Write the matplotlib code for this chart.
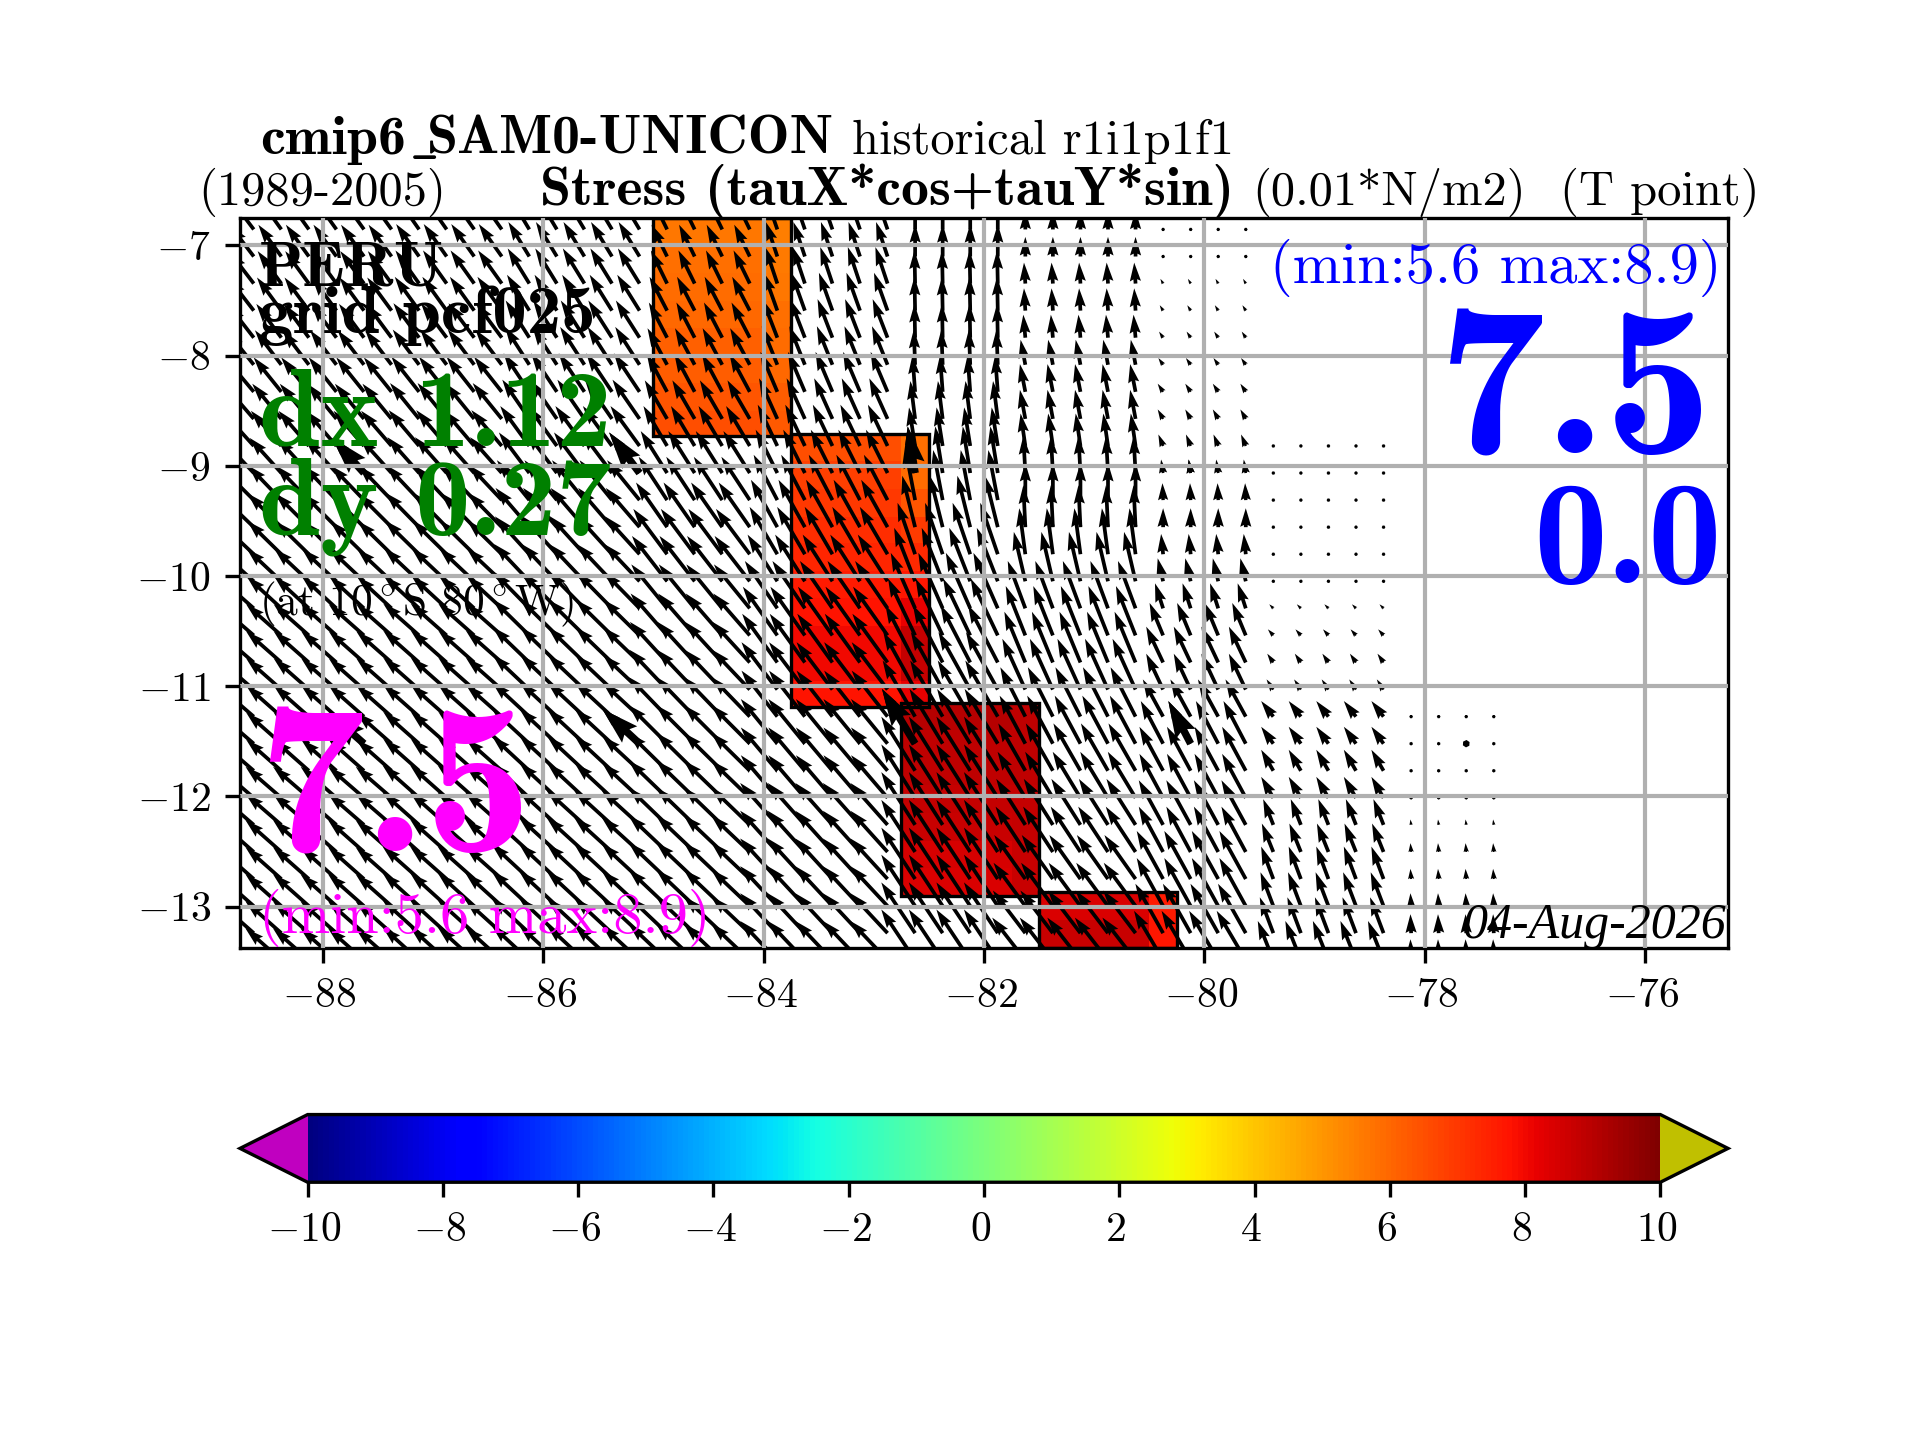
import numpy as np
import matplotlib
matplotlib.use('Agg')
import matplotlib.pyplot as plt
from matplotlib.cm import ScalarMappable
from matplotlib.colors import Normalize
from matplotlib.patches import Rectangle
from matplotlib.transforms import ScaledTranslation

plt.rcParams['mathtext.fontset'] = 'cm'
plt.rcParams['font.family'] = 'cmr10'
plt.rcParams['axes.unicode_minus'] = False
plt.rcParams['axes.formatter.use_mathtext'] = True

xticks = [-88, -86, -84, -82, -80, -78, -76]
yticks = [-7, -8, -9, -10, -11, -12, -13]
cticks = [-10, -8, -6, -4, -2, 0, 2, 4, 6, 8, 10]

# arrows repeat over model cells, so one column of values per cell (28 rows, north to south)
block_cols = [1, 5, 4, 5, 4, 5, 4, 5, 4, 5, 4]
lon_first, lon_step = -88.625, 0.25
lat_first, lat_step = -6.855, -0.2456

n = np.nan
u_b0 = [-3.4,-3.5,-3.6,-3.7,-3.8,-4.0,-4.2,-4.4,-4.6,-4.8,-5.0,-5.1,-5.1,-5.2,-5.2,-5.2,-5.2,-5.2,-5.2,-5.2,-5.2,-5.2,-5.2,-5.2,-5.2,-5.2,-5.2,-5.2]
v_b0 = [4.5,4.6,4.7,4.8,4.9,5.0,5.0,5.1,5.1,5.1,5.0,4.9,4.8,4.7,4.6,4.5,4.5,4.5,4.5,4.5,4.5,4.5,4.5,4.6,4.6,4.6,4.6,4.6]
u_b1 = [-3.3,-3.4,-3.5,-3.6,-3.7,-3.9,-4.1,-4.3,-4.5,-4.7,-4.9,-5.0,-5.0,-5.1,-5.1,-5.2,-5.2,-5.2,-5.2,-5.2,-5.2,-5.3,-5.3,-5.3,-5.3,-5.3,-5.3,-5.3]
v_b1 = [4.6,4.7,4.8,4.9,5.0,5.1,5.1,5.2,5.2,5.2,5.1,5.0,4.9,4.8,4.7,4.6,4.6,4.6,4.6,4.6,4.6,4.6,4.6,4.7,4.7,4.7,4.7,4.7]
u_b2 = [-3.3,-3.4,-3.5,-3.6,-3.8,-3.9,-4.1,-4.3,-4.5,-4.7,-4.9,-5.0,-5.1,-5.2,-5.2,-5.3,-5.3,-5.3,-5.3,-5.3,-5.3,-5.4,-5.4,-5.4,-5.4,-5.4,-5.4,-5.4]
v_b2 = [4.7,4.8,4.9,5.0,5.1,5.2,5.2,5.3,5.3,5.3,5.2,5.1,5.0,4.9,4.8,4.7,4.7,4.7,4.7,4.7,4.7,4.8,4.8,4.8,4.8,4.9,4.9,4.9]
u_b3 = [-3.0,-3.1,-3.2,-3.3,-3.5,-3.6,-3.8,-4.0,-4.3,-4.5,-4.8,-5.0,-5.1,-5.2,-5.3,-5.4,-5.4,-5.4,-5.5,-5.5,-5.5,-5.5,-5.6,-5.6,-5.6,-5.6,-5.6,-5.6]
v_b3 = [5.0,5.1,5.2,5.3,5.5,5.6,5.7,5.8,5.9,6.0,5.9,5.8,5.6,5.5,5.4,5.3,5.2,5.1,5.1,5.1,5.1,5.1,5.1,5.1,5.2,5.2,5.2,5.2]
u_b4 = [-2.2,-2.3,-2.4,-2.6,-2.7,-2.9,-3.0,-3.3,-3.5,-3.9,-4.2,-4.6,-5.0,-5.2,-5.3,-5.4,-5.5,-5.6,-5.6,-5.7,-5.7,-5.7,-5.7,-5.7,-5.7,-5.7,-5.7,-5.7]
v_b4 = [4.5,4.7,4.9,5.0,5.2,5.4,5.6,5.7,5.9,6.2,6.4,6.6,6.7,6.7,6.5,6.2,6.0,5.9,5.8,5.7,5.6,5.5,5.5,5.4,5.4,5.4,5.4,5.4]
u_b5 = [-1.7,-1.7,-1.8,-2.0,-2.2,-2.3,-2.5,-2.7,-2.9,-3.2,-3.5,-3.9,-4.1,-4.4,-4.8,-5.1,-5.2,-5.3,-5.3,-5.4,-5.4,-5.4,-5.5,-5.5,-5.5,-5.5,-5.5,-5.5]
v_b5 = [4.9,5.1,5.4,5.6,5.7,5.7,5.9,6.0,6.1,6.4,6.7,7.0,7.0,6.9,7.0,7.2,7.2,7.0,6.8,6.6,6.4,6.3,6.2,6.1,6.0,5.9,5.9,5.8]
u_b6 = [0.0,0.0,-0.1,-0.1,-0.1,-0.2,-0.4,-0.7,-0.9,-1.1,-1.4,-1.9,-2.6,-3.1,-3.6,-4.0,-4.4,-4.7,-4.8,-4.9,-5.0,-5.0,-5.0,-5.0,-5.0,-5.0,-5.0,-5.0]
v_b6 = [4.8,4.8,4.9,5.0,5.0,5.2,5.4,5.6,5.7,6.9,7.4,7.6,7.6,7.9,8.2,8.4,8.5,8.5,8.3,8.1,8.0,7.9,7.8,7.7,7.6,7.6,7.5,7.5]
u_b7 = [0.0,0.0,-0.2,-0.2,-0.3,-0.7,-0.8,-0.8,-0.7,-0.3,0.0,-0.3,-0.9,-1.7,-2.6,-2.9,-3.1,-3.4,-3.7,-3.8,-4.0,-4.1,-4.3,-4.4,-4.6,-4.7,-4.8,-4.9]
v_b7 = [2.8,2.9,3.1,3.3,3.4,3.7,4.1,4.3,4.8,5.5,5.5,6.2,6.8,7.3,7.0,7.3,7.5,7.5,7.3,7.1,7.0,6.8,6.8,6.7,6.5,6.4,6.3,6.3]
u_b8 = [0.0,-0.3,-0.4,-0.5,-0.6,-0.7,-0.8,-0.8,-0.7,-0.3,-0.1,0.0,-0.3,-0.8,-1.2,-2.0,-2.5,-2.5,-3.0,-3.3,-3.5,-3.5,-3.6,-3.6,-3.9,-3.9,-4.1,-4.3]
v_b8 = [0.0,0.4,0.7,0.8,0.9,1.0,1.2,1.4,1.7,2.0,2.5,2.8,3.0,3.4,3.7,4.8,5.3,5.3,5.5,6.3,6.5,6.5,6.6,6.7,7.1,7.1,7.3,7.3]
u_b9 = [n,n,n,n,n,n,n,n,0.0,0.0,0.0,0.0,-0.2,-0.3,-0.6,-0.8,-0.9,-1.0,-1.8,-1.8,-1.8,-1.8,-1.5,-1.7,-1.8,-1.9,-2.0,-2.3]
v_b9 = [n,n,n,n,n,n,n,n,0.0,0.0,0.0,0.0,0.3,0.3,0.6,0.9,1.3,1.5,2.3,2.5,3.1,3.1,3.8,4.2,4.8,5.0,5.3,5.8]
u_b10 = [n,n,n,n,n,n,n,n,n,n,n,n,n,n,n,n,n,n,0.0,-0.3,-0.3,0.0,-0.1,-0.1,-0.1,-0.1,-0.1,-0.1]
v_b10 = [n,n,n,n,n,n,n,n,n,n,n,n,n,n,n,n,n,n,0.0,0.2,0.2,0.3,0.8,1.3,1.5,1.9,2.8,3.1]

# every tenth arrow is drawn heavier
heavy_rows = [9, 19]
heavy_col_start, heavy_col_step = 4, 10

# shaded cells, one block per model column: lon edges, lat edges, values by row for each sub-column
b1_lon = [-85.0, -84.0, -83.75]
b1_lat = [-6.75, -7.0, -7.25, -7.5, -7.75, -8.0, -8.25, -8.5, -8.73]
b1_main = [5.7, 5.8, 5.9, 6.0, 6.1, 6.2, 6.4, 6.5]
b1_edge = [5.5, 5.6, 5.7, 5.8, 5.9, 6.0, 6.2, 6.3]

b2_lon = [-83.75, -82.75, -82.5]
b2_lat = [-8.71, -8.96, -9.21, -9.46, -9.7, -9.95, -10.2, -10.45, -10.7, -10.95, -11.19]
b2_main = [6.5, 6.8, 7.0, 7.2, 7.4, 7.6, 7.8, 8.0, 8.0, 7.8]
b2_edge = [5.8, 5.9, 6.4, 6.9, 7.3, 7.7, 8.2, 8.8, 8.8, 8.2]

b3_lon = [-82.75, -81.75, -81.5]
b3_lat = [-11.15, -11.4, -11.65, -11.9, -12.15, -12.4, -12.65, -12.9]
b3_main = [9.0, 8.9, 8.9, 8.8, 8.7, 8.5, 8.4]
b3_edge = [8.9, 8.9, 8.9, 8.8, 8.8, 8.7, 8.7]

b4_lon = [-81.5, -80.5, -80.25]
b4_lat = [-12.87, -13.12, -13.375]
b4_main = [8.4, 8.7]
b4_edge = [7.6, 7.7]

cmap = plt.get_cmap('jet').copy()
cmap.set_under('#c000c0')
cmap.set_over('#c0c000')
norm = Normalize(-10, 10)

fig = plt.figure(figsize=(6.4, 4.8), dpi=300)
ax = fig.add_axes([0.125, 0.3417, 0.775, 0.507])
ax.set_xlim(-88.75, -75.25)
ax.set_ylim(-13.375, -6.75)

blocks = [(b1_lon, b1_lat, b1_main, b1_edge), (b2_lon, b2_lat, b2_main, b2_edge),
          (b3_lon, b3_lat, b3_main, b3_edge), (b4_lon, b4_lat, b4_main, b4_edge)]
for lons, lats, main, edge in blocks:
    vals = np.column_stack([main, edge])
    ax.pcolormesh(lons, lats, vals, cmap=cmap, norm=norm, zorder=0.5)
    ax.add_patch(Rectangle((lons[0], lats[-1]), lons[-1] - lons[0], lats[0] - lats[-1],
                           fill=False, ec='k', lw=0.8, zorder=0.8))

U = np.repeat(np.array([u_b0, u_b1, u_b2, u_b3, u_b4, u_b5, u_b6, u_b7, u_b8, u_b9, u_b10]).T, block_cols, axis=1)
V = np.repeat(np.array([v_b0, v_b1, v_b2, v_b3, v_b4, v_b5, v_b6, v_b7, v_b8, v_b9, v_b10]).T, block_cols, axis=1)
lon = lon_first + lon_step * np.arange(U.shape[1])
lat = lat_first + lat_step * np.arange(U.shape[0])
X, Y = np.meshgrid(lon, lat)
ax.quiver(X, Y, U, V, scale=220, width=0.0025, zorder=1)
for r in heavy_rows:
    ax.quiver(X[r, heavy_col_start::heavy_col_step], Y[r, heavy_col_start::heavy_col_step],
              U[r, heavy_col_start::heavy_col_step], V[r, heavy_col_start::heavy_col_step],
              scale=220, width=0.005, zorder=1)

ax.set_axisbelow(False)
ax.grid(True, lw=1.0)
ax.set_xticks(xticks)
ax.set_xticklabels([f'${t}$' for t in xticks])
ax.set_yticks(yticks)
ax.set_yticklabels([f'${t}$' for t in yticks])


def put(x, y, s, **kw):
    # x, y in pixels of the saved figure, y from the top
    return fig.text(x / 1920, 1 - y / 1440, s, zorder=5, **kw)


put(260, 154, 'cmip6', family='cmb10', fontsize=13.4)
put(409, 154, r'$\_$', fontsize=13.4)
put(427, 154, 'SAM0-UNICON', family='cmb10', fontsize=13.4)
put(852, 154, 'historical r1i1p1f1', fontsize=11.65)
put(198, 205, '(1989-2005)', fontsize=11.65)
put(540, 205, 'Stress (tauX*cos+tauY*sin)', family='cmb10', fontsize=13.4)
put(1252, 205, '(0.01*N/m2)', fontsize=11.65)
put(1560, 205, '(T point)', fontsize=11.65)

put(259, 285, 'PERU', family='cmb10', fontsize=15.5)
put(259, 333, 'grid pcf025', family='cmb10', fontsize=16.5)
put(259, 445, 'dx 1.12', family='cmb10', fontsize=26.5, color='green')
put(259, 534, 'dy 0.27', family='cmb10', fontsize=26.5, color='green')
put(259, 615, r'(at 10$^\circ$S 80$^\circ$W)', fontsize=10.4)
put(258, 852, '7.5', family='cmb10', fontsize=51.5, color='magenta')
put(259, 933, '(min:5.6 max:8.9)', fontsize=14, color='magenta')
put(1722, 283, '(min:5.6 max:8.9)', fontsize=14, color='blue', ha='right')
put(1712, 453, '7.5', family='cmb10', fontsize=51.5, color='blue', ha='right')
put(1722, 583, '0.0', family='cmb10', fontsize=35.5, color='blue', ha='right')
put(1726, 938, '04-Aug-2026', family='Liberation Serif', style='italic', fontsize=12, ha='right')

cax = fig.add_axes([0.125, 0.179, 0.775, 0.047])
cb = fig.colorbar(ScalarMappable(norm=norm, cmap=cmap), cax=cax, orientation='horizontal', extend='both')
cb.set_ticks(cticks)
cb.set_ticklabels([f'${t}$' for t in cticks])

# mathtext labels sit a little right of their ticks
shift = ScaledTranslation(-3.5 / 300, 0, fig.dpi_scale_trans)
for lab in ax.get_xticklabels() + cax.get_xticklabels():
    lab.set_transform(lab.get_transform() + shift)

fig.savefig('out.png')
